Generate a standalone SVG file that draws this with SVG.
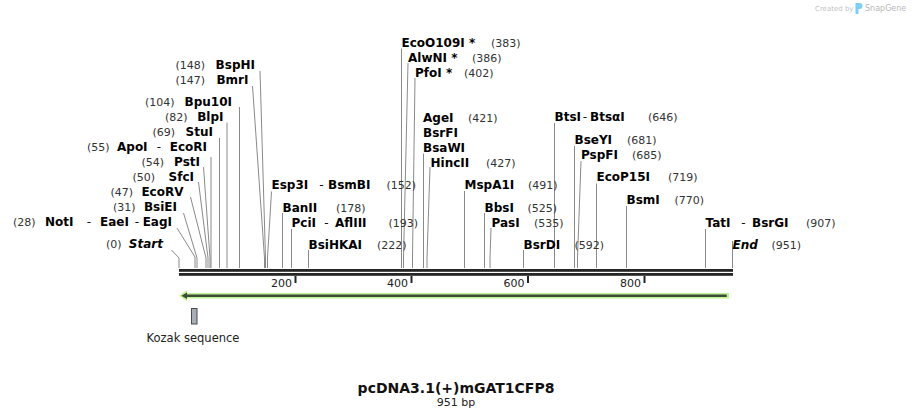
<svg xmlns="http://www.w3.org/2000/svg" width="912" height="419" viewBox="0 0 912 419">
<style>
text{font-family:"DejaVu Sans",Verdana,sans-serif}
.n{font-size:12px;font-weight:bold;fill:#000}
.s{font-size:12px;fill:#111;text-anchor:middle}
.p{font-size:11px;fill:#333}
.it{font-style:italic}
.c line,.c polyline{stroke:#8a8a8a;stroke-width:1;fill:none}
.t{font-size:11px;fill:#222}
</style>
<rect width="912" height="419" fill="#fff"/>
<g id="watermark">
<text x="815" y="10.5" font-size="7" fill="#c4c4c4">Created by</text>
<path d="M855.5 3 h4 a3 3 0 0 1 0 6 h-1 v5 h-3 z" fill="#7dcff2"/>
<text x="865" y="11" font-size="8" fill="#b8b8b8">SnapGene</text>
</g>
<g id="connectors" class="c">
<polyline points="260,71 265.5,258 265.5,268"/>
<polyline points="252.5,86 264.5,258 264.5,268"/>
<line x1="239.5" y1="107" x2="239.5" y2="268"/>
<line x1="227" y1="122.5" x2="227" y2="268"/>
<line x1="219.5" y1="138" x2="219.5" y2="268"/>
<line x1="211" y1="157" x2="211" y2="268"/>
<polyline points="203.5,167 210,258 210,268"/>
<polyline points="198.5,182 208,258 208,268"/>
<polyline points="190.5,197 206,258 206,268"/>
<polyline points="183.5,213 197,258 197,268"/>
<polyline points="177,228 195,257 195,268"/>
<polyline points="171.5,250 179,258 179,268"/>
<polyline points="271.5,191.5 267.5,258 267.5,268"/>
<line x1="282.5" y1="213" x2="282.5" y2="268"/>
<line x1="291.5" y1="229" x2="291.5" y2="268"/>
<line x1="308.5" y1="250" x2="308.5" y2="268"/>
<line x1="401.5" y1="48.5" x2="401.5" y2="268"/>
<polyline points="408,63 403.5,258 403.5,268"/>
<polyline points="415,78 412.5,258 412.5,268"/>
<line x1="423.5" y1="153.5" x2="423.5" y2="268"/>
<polyline points="430,167 427,258 427,268"/>
<line x1="464.5" y1="191" x2="464.5" y2="268"/>
<line x1="484.5" y1="213" x2="484.5" y2="268"/>
<polyline points="491,228 490,258 490,268"/>
<line x1="523.5" y1="250" x2="523.5" y2="268"/>
<line x1="554.5" y1="123" x2="554.5" y2="268"/>
<line x1="574.5" y1="146" x2="574.5" y2="268"/>
<polyline points="581,161 577.5,258 577.5,268"/>
<line x1="596.5" y1="183.5" x2="596.5" y2="268"/>
<line x1="626.5" y1="206" x2="626.5" y2="268"/>
<line x1="705.5" y1="229" x2="705.5" y2="268"/>
<line x1="732.5" y1="241" x2="732.5" y2="268"/>
</g>
<g id="ruler">
<rect x="179" y="269" width="554" height="2.8" fill="#262626"/>
<rect x="179" y="273" width="554" height="2.8" fill="#262626"/>
<rect x="294.5" y="276" width="2" height="7" fill="#262626"/>
<rect x="410.5" y="276" width="2" height="7" fill="#262626"/>
<rect x="527" y="276" width="2" height="7" fill="#262626"/>
<rect x="643.5" y="276" width="2" height="7" fill="#262626"/>
<text class="t" x="292" y="286.5" text-anchor="end">200</text>
<text class="t" x="408" y="286.5" text-anchor="end">400</text>
<text class="t" x="524.5" y="286.5" text-anchor="end">600</text>
<text class="t" x="641" y="286.5" text-anchor="end">800</text>
</g>
<g id="feature-arrow">
<polygon points="179,295.7 187,290 187,293 729,293 729,298.5 187,298.5 187,301.3" fill="#bdf293"/>
<polygon points="181.5,295.7 187,292.5 187,294.6 726.7,294.6 726.7,296.9 187,296.9 187,299" fill="#3c4a36"/>
</g>
<g id="kozak">
<rect x="191.5" y="308.5" width="5.5" height="15.5" fill="#a9adb4" stroke="#4a4a4a" stroke-width="1"/>
<text x="193" y="342" font-size="11.5" fill="#222" text-anchor="middle">Kozak sequence</text>
</g>
<g id="site-BspHI"><text class="p" x="175.5" y="69">(148)</text><text class="n" x="255" y="69" text-anchor="end">BspHI</text></g>
<g id="site-BmrI"><text class="p" x="175.5" y="84">(147)</text><text class="n" x="248.5" y="84" text-anchor="end">BmrI</text></g>
<g id="site-Bpu10I"><text class="p" x="145" y="106">(104)</text><text class="n" x="232" y="106" text-anchor="end">Bpu10I</text></g>
<g id="site-BlpI"><text class="p" x="165" y="121">(82)</text><text class="n" x="223.5" y="121" text-anchor="end">BlpI</text></g>
<g id="site-StuI"><text class="p" x="152.5" y="136">(69)</text><text class="n" x="213" y="136" text-anchor="end">StuI</text></g>
<g id="site-ApoI"><text class="p" x="87" y="151">(55)</text><text class="n" x="117" y="151">ApoI</text><text class="s" x="159" y="151">-</text><text class="n" x="207" y="151" text-anchor="end">EcoRI</text></g>
<g id="site-PstI"><text class="p" x="141.5" y="166">(54)</text><text class="n" x="200" y="166" text-anchor="end">PstI</text></g>
<g id="site-SfcI"><text class="p" x="132.5" y="181">(50)</text><text class="n" x="194" y="181" text-anchor="end">SfcI</text></g>
<g id="site-EcoRV"><text class="p" x="110.5" y="196">(47)</text><text class="n" x="183.5" y="196" text-anchor="end">EcoRV</text></g>
<g id="site-BsiEI"><text class="p" x="113" y="211">(31)</text><text class="n" x="177" y="211" text-anchor="end">BsiEI</text></g>
<g id="site-NotI"><text class="p" x="13" y="226">(28)</text><text class="n" x="45" y="226">NotI</text><text class="s" x="89" y="226">-</text><text class="n" x="100" y="226">EaeI</text><text class="s" x="137" y="226">-</text><text class="n" x="172" y="226" text-anchor="end">EagI</text></g>
<g id="site-Start"><text class="p" x="106" y="248">(0)</text><text class="n it" x="163" y="248" text-anchor="end">Start</text></g>
<g id="site-EcoO109I"><text class="n" x="401.5" y="46.5">EcoO109I *</text><text class="p" x="491" y="46.5">(383)</text></g>
<g id="site-AlwNI"><text class="n" x="408" y="61.5">AlwNI *</text><text class="p" x="472" y="61.5">(386)</text></g>
<g id="site-PfoI"><text class="n" x="415" y="76.5">PfoI *</text><text class="p" x="464" y="76.5">(402)</text></g>
<g id="site-AgeI"><text class="n" x="423" y="121.5">AgeI</text><text class="p" x="468" y="121.5">(421)</text><text class="n" x="423" y="136.5">BsrFI</text><text class="n" x="423" y="151.5">BsaWI</text></g>
<g id="site-HincII"><text class="n" x="430.5" y="166.5">HincII</text><text class="p" x="486" y="166.5">(427)</text></g>
<g id="site-Esp3I"><text class="n" x="271.5" y="189">Esp3I</text><text class="s" x="321.5" y="189">-</text><text class="n" x="328" y="189">BsmBI</text><text class="p" x="386.5" y="189">(152)</text></g>
<g id="site-BanII"><text class="n" x="282.5" y="211.5">BanII</text><text class="p" x="336" y="211.5">(178)</text></g>
<g id="site-PciI"><text class="n" x="291.5" y="226.5">PciI</text><text class="s" x="326.5" y="226.5">-</text><text class="n" x="335" y="226.5">AflIII</text><text class="p" x="388.5" y="226.5">(193)</text></g>
<g id="site-BsiHKAI"><text class="n" x="308.5" y="248.5">BsiHKAI</text><text class="p" x="377" y="248.5">(222)</text></g>
<g id="site-MspA1I"><text class="n" x="464.5" y="189">MspA1I</text><text class="p" x="528" y="189">(491)</text></g>
<g id="site-BbsI"><text class="n" x="484.5" y="211.5">BbsI</text><text class="p" x="527.5" y="211.5">(525)</text></g>
<g id="site-PasI"><text class="n" x="491.5" y="226.5">PasI</text><text class="p" x="534" y="226.5">(535)</text></g>
<g id="site-BsrDI"><text class="n" x="523.5" y="248.5">BsrDI</text><text class="p" x="574.5" y="248.5">(592)</text></g>
<g id="site-BtsI"><text class="n" x="554.5" y="121">BtsI</text><text class="s" x="585" y="121">-</text><text class="n" x="590" y="121">BtsαI</text><text class="p" x="648" y="121">(646)</text></g>
<g id="site-BseYI"><text class="n" x="574.5" y="144">BseYI</text><text class="p" x="627" y="144">(681)</text></g>
<g id="site-PspFI"><text class="n" x="581" y="159">PspFI</text><text class="p" x="632" y="159">(685)</text></g>
<g id="site-EcoP15I"><text class="n" x="596.5" y="181">EcoP15I</text><text class="p" x="668" y="181">(719)</text></g>
<g id="site-BsmI"><text class="n" x="626.5" y="204">BsmI</text><text class="p" x="674.5" y="204">(770)</text></g>
<g id="site-TatI"><text class="n" x="705.5" y="226.5">TatI</text><text class="s" x="743.5" y="226.5">-</text><text class="n" x="752" y="226.5">BsrGI</text><text class="p" x="806" y="226.5">(907)</text></g>
<g id="site-End"><text class="n it" x="732.5" y="249">End</text><text class="p" x="771.5" y="249">(951)</text></g>
<g id="title">
<text x="456" y="393" font-size="14" font-weight="bold" fill="#111" text-anchor="middle">pcDNA3.1(+)mGAT1CFP8</text>
<text x="456" y="406" font-size="11" fill="#222" text-anchor="middle">951 bp</text>
</g>
</svg>
